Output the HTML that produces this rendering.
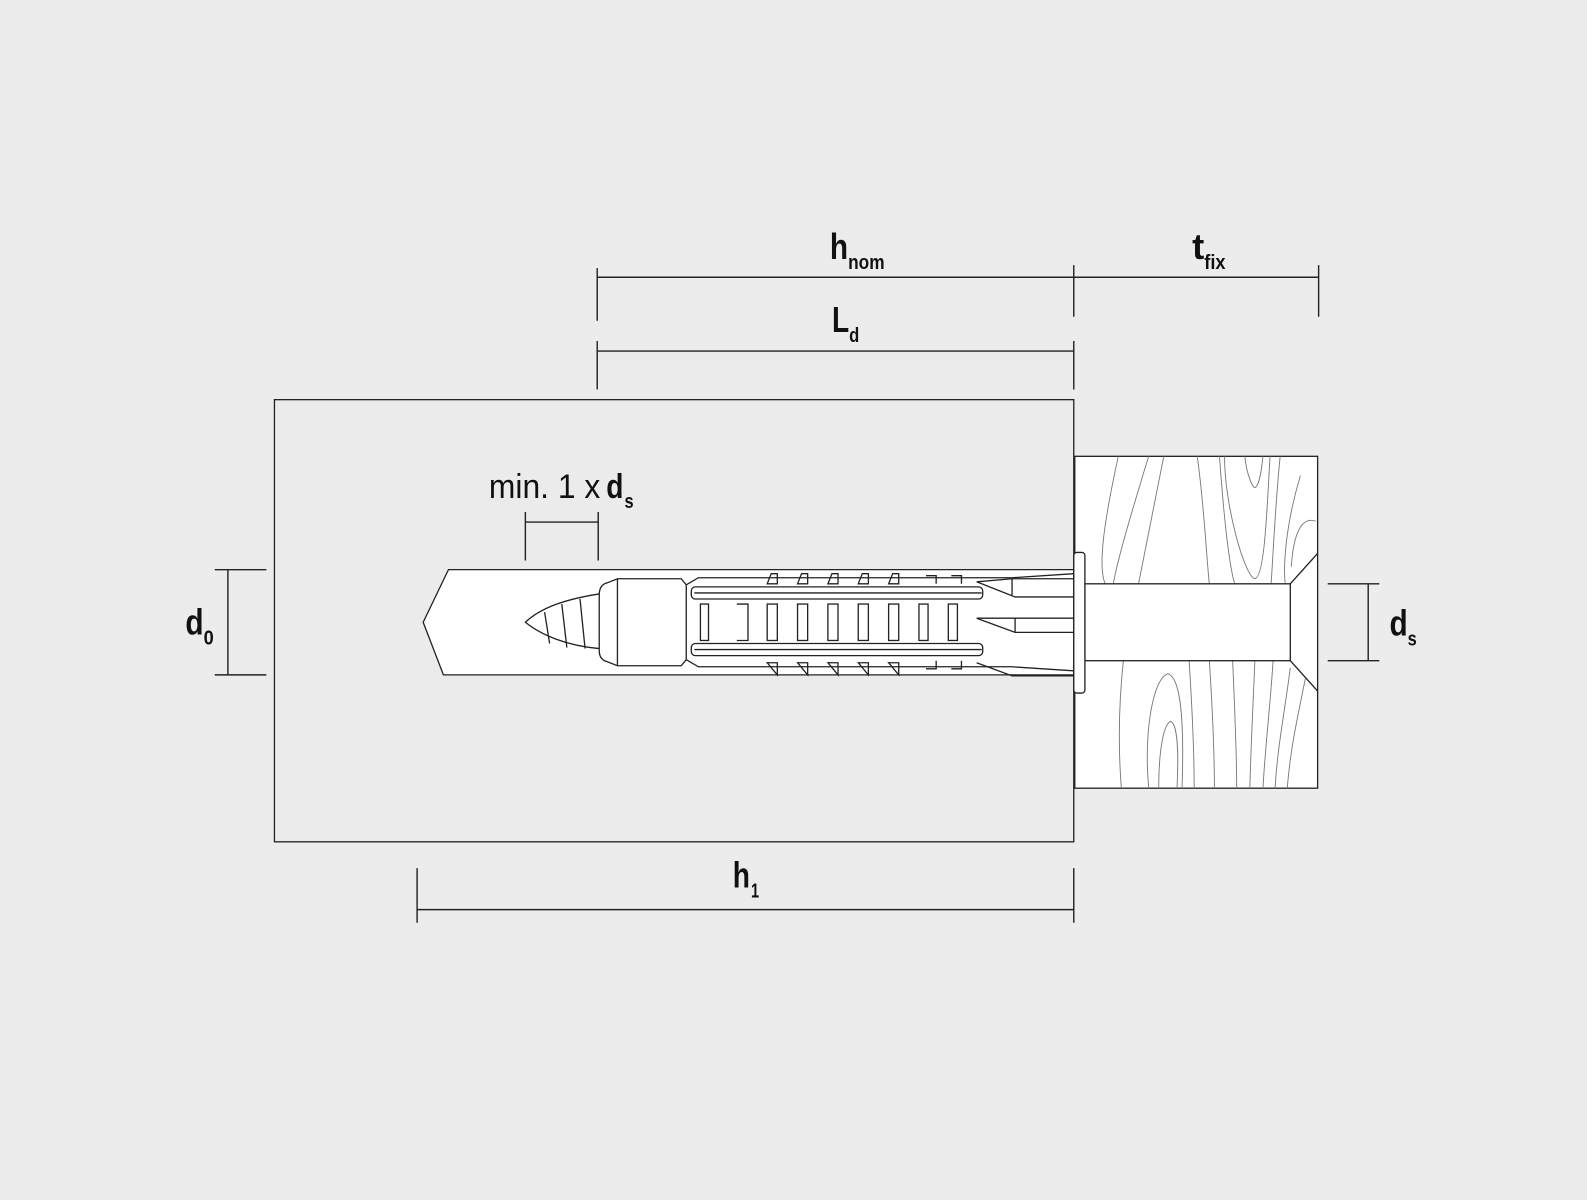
<!DOCTYPE html>
<html><head><meta charset="utf-8"><style>
html,body{margin:0;padding:0;background:#ececec;}
svg{display:block}
text{font-family:"Liberation Sans Narrow","Liberation Sans",sans-serif;fill:#111;}
</style></head><body>
<svg width="1587" height="1200" viewBox="0 0 1568 1186" xmlns="http://www.w3.org/2000/svg">
<rect x="0" y="0" width="1568" height="1186" fill="#ececec"/>
<g stroke="#222" stroke-width="1.3" fill="none">
<rect x="271" y="395" width="790" height="437" fill="#ebebeb"/>
<rect x="1062" y="451" width="240" height="328" fill="#fff"/>
<g stroke="#777" stroke-width="0.9">
<path d="M1105 451 C1090 520 1085 560 1092 577"/>
<path d="M1135 451 C1120 500 1105 550 1100 577"/>
<path d="M1150 451 C1140 500 1130 550 1125 577"/>
<path d="M1183 451 C1190 500 1192 550 1195 577"/>
<path d="M1205 451 C1210 520 1215 560 1220 577"/>
<path d="M1210 451 C1210 500 1230 570 1240 572 C1250 570 1252 500 1255 451"/>
<path d="M1230 451 C1232 470 1238 482 1240 482 C1245 480 1247 460 1248 451"/>
<path d="M1265 451 C1260 500 1258 550 1256 577"/>
<path d="M1285 470 C1270 520 1268 560 1270 577"/>
<path d="M1300 515 C1285 510 1278 530 1276 560"/>
<path d="M1110 653 C1105 700 1105 740 1108 779"/>
<path d="M1135 779 C1130 720 1140 670 1154 666 C1168 670 1170 720 1168 779"/>
<path d="M1145 779 C1145 740 1150 715 1157 713 C1163 716 1165 740 1163 779"/>
<path d="M1175 653 C1178 700 1180 740 1180 779"/>
<path d="M1195 653 C1198 700 1200 740 1200 779"/>
<path d="M1218 653 C1220 700 1222 740 1222 779"/>
<path d="M1240 653 C1238 700 1236 740 1235 779"/>
<path d="M1258 653 C1255 700 1250 740 1248 779"/>
<path d="M1275 660 C1270 700 1262 740 1260 779"/>
<path d="M1290 670 C1282 710 1275 740 1272 779"/>
</g>
<rect x="1072" y="577" width="203" height="76" fill="#fff"/>
<path d="M1275 577 L1302 547 M1275 653 L1302 683"/>
<path d="M443 563 L1061 563 L1061 667 L438 667 L418 615 Z" fill="#fff"/>
<rect x="1061" y="546" width="11" height="139" rx="3" fill="#fff"/>
<path d="M592 587 C560 592 535 600 519 615 C535 628 560 638 592 641"/>
<path d="M538 605 L543 636 M555 597 L560 640 M573 592 L578 641"/>
<path d="M600 576 Q592 578 592 588 L592 643 Q592 652 600 654 L610 658 L673 658 L678 652 L678 578 L673 572 L610 572 Z" fill="#fff"/>
<line x1="610" y1="572" x2="610" y2="658"/>
<path d="M678 578 L690 571 L1000 571 L1061 567 M678 652 L690 659 L1000 659 L1061 663"/>
<rect x="683" y="580" width="288" height="12" rx="4"/>
<rect x="683" y="636" width="288" height="12" rx="4"/>
<line x1="686" y1="586" x2="970" y2="586"/>
<line x1="686" y1="642" x2="970" y2="642"/>
<rect x="692" y="597" width="8" height="36"/>
<path d="M728 597 L739 597 L739 633 L728 633"/>
<rect x="758" y="597" width="10" height="36"/><rect x="788" y="597" width="10" height="36"/>
<rect x="818" y="597" width="10" height="36"/><rect x="848" y="597" width="10" height="36"/>
<rect x="878" y="597" width="10" height="36"/><rect x="908" y="597" width="9" height="36"/>
<rect x="937" y="597" width="9" height="36"/>
<path d="M758 577 L762 567 L768 567 L768 577 Z M788 577 L792 567 L798 567 L798 577 Z M818 577 L822 567 L828 567 L828 577 Z M848 577 L852 567 L858 567 L858 577 Z M878 577 L882 567 L888 567 L888 577 Z"/>
<path d="M758 655 L768 667 L768 655 Z M788 655 L798 667 L798 655 Z M818 655 L828 667 L828 655 Z M848 655 L858 667 L858 655 Z M878 655 L888 667 L888 655 Z"/>
<path d="M915 569 L925 569 L925 577 M940 569 L950 569 L950 577 M915 661 L925 661 L925 653 M940 661 L950 661 L950 653"/>
<path d="M965 575 L1000 572 L1061 572 M965 575 L1003 590 L1061 590 M1000 572 L1000 588"/>
<path d="M965 611 L1003 625 L1061 625 M965 611 L1061 611 M1003 611 L1003 625"/>
<path d="M965 655 L1000 668 L1061 668"/>
</g>
<g stroke="#222" stroke-width="1.4" fill="none">
<path d="M590 274 L1303 274 M590 265 L590 317 M1061 262 L1061 313 M1303 262 L1303 313"/>
<path d="M590 347 L1061 347 M590 337 L590 385 M1061 337 L1061 385"/>
<path d="M412 899 L1061 899 M412 858 L412 912 M1061 858 L1061 912"/>
<path d="M519 516 L591 516 M519 506 L519 554 M591 506 L591 554"/>
<path d="M225 563 L225 667 M212 563 L263 563 M212 667 L263 667"/>
<path d="M1352 577 L1352 653 M1312 577 L1363 577 M1312 653 L1363 653"/>
</g>
<g font-weight="bold">
<text x="820" y="256" font-size="36" textLength="18" lengthAdjust="spacingAndGlyphs">h</text>
<text x="838" y="266" font-size="20" textLength="36" lengthAdjust="spacingAndGlyphs">nom</text>
<text x="1178" y="256" font-size="36" textLength="12" lengthAdjust="spacingAndGlyphs">t</text>
<text x="1190" y="266" font-size="20" textLength="21" lengthAdjust="spacingAndGlyphs">fix</text>
<text x="822" y="328" font-size="36" textLength="17" lengthAdjust="spacingAndGlyphs">L</text>
<text x="839" y="338" font-size="20" textLength="10" lengthAdjust="spacingAndGlyphs">d</text>
<text x="724" y="877" font-size="36" textLength="17" lengthAdjust="spacingAndGlyphs">h</text>
<text x="742" y="887" font-size="20" textLength="8" lengthAdjust="spacingAndGlyphs">1</text>
<text x="183" y="627" font-size="36" textLength="18" lengthAdjust="spacingAndGlyphs">d</text>
<text x="201" y="637" font-size="20" textLength="10" lengthAdjust="spacingAndGlyphs">0</text>
<text x="1373" y="628" font-size="36" textLength="18" lengthAdjust="spacingAndGlyphs">d</text>
<text x="1391" y="638" font-size="20" textLength="9" lengthAdjust="spacingAndGlyphs">s</text>
<text x="599" y="492" font-size="34" textLength="17" lengthAdjust="spacingAndGlyphs">d</text>
<text x="617" y="502" font-size="20" textLength="9" lengthAdjust="spacingAndGlyphs">s</text>
</g>
<text x="483" y="492" font-size="34" textLength="110" lengthAdjust="spacingAndGlyphs">min. 1 x</text>
</svg>
</body></html>
